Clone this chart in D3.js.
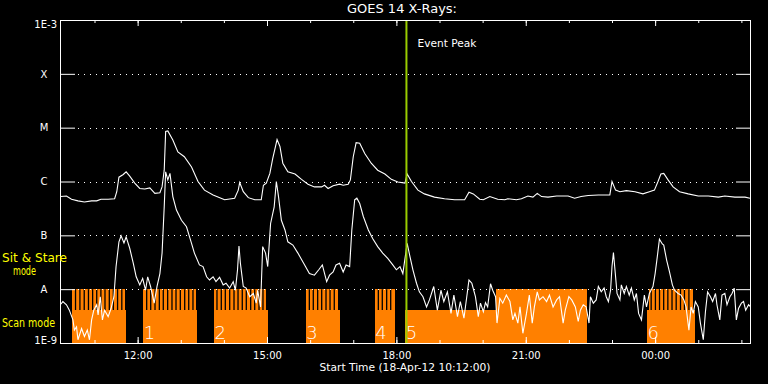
<!DOCTYPE html>
<html lang="en">
<head>
<meta charset="UTF-8">
<title>GOES 14 X-Rays</title>
<script src="https://d3js.org/d3.v7.min.js"></script>
<style>
  html, body { margin: 0; padding: 0; background: #000; }
  svg { display: block; background: #000; }
  text { font-family: "DejaVu Sans", sans-serif; fill: #fff; }
</style>
</head>
<body>
<div id="chart"></div>
<script>
const width = 768, height = 384;
const margin = { top: 20, right: 18, bottom: 41, left: 60 };

// times are minutes after the start time, fluxes are log10(W/m^2)
const startTime = new Date(2012, 3, 18, 10, 12, 0);
const spanMinutes = 960;
const eventPeak = 482;

const fluxLevels = [1e-9, 1e-8, 1e-7, 1e-6, 1e-5, 1e-4, 1e-3];
const fluxLabels = ["1E-9", "A", "B", "C", "M", "X", "1E-3"];

// 1-8 A channel
const longChannel = [
  [1,-6.28],[9,-6.27],[16,-6.33],[25,-6.36],[34,-6.38],[44,-6.36],[51,-6.36],[57,-6.33],[67,-6.33],[76,-6.32],
  [79,-6.19],[82,-5.92],[88,-5.87],[92,-5.82],[97,-5.90],[104,-6.03],[111,-6.13],[118,-6.14],[125,-6.12],[132,-6.22],
  [139,-6.21],[142,-6.10],[145,-5.79],[147,-5.07],[150,-5.06],[157,-5.23],[164,-5.45],[173,-5.54],[183,-5.73],[192,-6.00],
  [201,-6.16],[213,-6.25],[229,-6.34],[243,-6.31],[248,-6.16],[250,-6.02],[255,-6.19],[262,-6.30],[271,-6.34],[280,-6.34],
  [283,-6.07],[287,-6.03],[292,-5.85],[296,-5.57],[302,-5.22],[306,-5.35],[310,-5.66],[317,-5.82],[327,-5.86],[336,-5.96],
  [345,-6.05],[354,-6.10],[364,-6.10],[368,-6.07],[373,-6.13],[380,-6.08],[389,-6.05],[394,-6.07],[401,-6.05],[404,-5.97],
  [408,-5.54],[412,-5.28],[417,-5.29],[424,-5.48],[433,-5.66],[442,-5.79],[452,-5.86],[461,-5.96],[470,-6.01],[480,-6.03],
  [483,-5.86],[489,-6.00],[498,-6.16],[507,-6.23],[521,-6.29],[535,-6.32],[549,-6.34],[563,-6.34],[569,-6.20],[575,-6.23],
  [584,-6.33],[589,-6.34],[598,-6.28],[609,-6.33],[619,-6.34],[623,-6.32],[635,-6.34],[642,-6.32],[651,-6.27],[658,-6.29],
  [664,-6.22],[670,-6.28],[679,-6.29],[691,-6.27],[707,-6.27],[716,-6.31],[725,-6.28],[735,-6.26],[749,-6.25],[765,-6.25],
  [768,-6.00],[773,-6.16],[779,-6.19],[788,-6.17],[800,-6.19],[811,-6.23],[820,-6.19],[827,-6.16],[832,-6.00],[836,-5.86],
  [840,-5.85],[846,-5.97],[853,-6.10],[862,-6.19],[874,-6.23],[888,-6.27],[902,-6.27],[916,-6.29],[925,-6.27],[939,-6.29],
  [953,-6.29],[960,-6.31]
];

// 0.5-4 A channel
const shortChannel = [
  [1,-8.28],[4,-8.23],[9,-8.29],[13,-8.39],[18,-8.57],[20,-8.76],[23,-8.70],[25,-8.94],[30,-8.73],[34,-8.88],
  [38,-8.76],[41,-8.94],[44,-8.57],[47,-8.39],[51,-8.29],[53,-8.48],[56,-8.14],[59,-8.57],[62,-8.39],[67,-8.51],
  [71,-8.36],[75,-8.14],[78,-7.58],[82,-7.12],[85,-7.01],[89,-7.14],[92,-7.03],[97,-7.24],[102,-7.52],[106,-7.77],
  [111,-7.92],[115,-7.80],[119,-8.02],[122,-7.77],[126,-7.95],[131,-8.26],[135,-7.95],[139,-7.71],[142,-7.33],[145,-6.47],
  [147,-5.82],[150,-5.97],[153,-5.85],[157,-6.28],[162,-6.53],[169,-6.72],[176,-6.84],[183,-7.15],[187,-7.33],[194,-7.55],
  [199,-7.58],[204,-7.77],[208,-7.83],[213,-7.77],[217,-7.86],[222,-7.78],[227,-7.92],[231,-7.89],[236,-7.98],[241,-7.86],
  [244,-8.02],[247,-7.64],[249,-7.20],[251,-7.52],[255,-7.95],[259,-7.98],[264,-8.14],[269,-8.08],[273,-8.26],[275,-8.02],
  [279,-8.33],[282,-7.21],[286,-7.33],[289,-7.58],[293,-6.78],[298,-6.47],[301,-6.00],[304,-6.28],[308,-6.72],[313,-6.90],
  [317,-7.12],[324,-7.18],[331,-7.33],[339,-7.52],[347,-7.71],[354,-7.74],[360,-7.64],[365,-7.55],[371,-7.86],[375,-7.74],
  [380,-7.68],[384,-7.55],[389,-7.52],[394,-7.68],[398,-7.55],[403,-7.58],[406,-6.90],[410,-6.34],[413,-6.31],[417,-6.41],
  [422,-6.65],[429,-6.90],[435,-7.06],[442,-7.21],[449,-7.33],[456,-7.43],[463,-7.55],[468,-7.64],[473,-7.58],[477,-7.71],
  [483,-7.15],[487,-7.40],[491,-7.64],[496,-7.89],[500,-8.05],[505,-8.14],[510,-8.33],[514,-8.20],[520,-7.95],[525,-8.39],
  [530,-8.02],[534,-8.23],[539,-8.05],[544,-8.45],[548,-8.11],[553,-8.51],[557,-8.23],[562,-8.54],[569,-7.83],[573,-7.89],
  [578,-8.14],[582,-8.51],[585,-8.26],[589,-8.42],[592,-8.25],[595,-8.33],[599,-7.90],[602,-8.02],[606,-8.14],[608,-8.63],
  [612,-8.17],[616,-8.26],[621,-8.11],[626,-8.23],[630,-8.57],[633,-8.45],[637,-8.63],[640,-8.33],[644,-8.82],[649,-8.45],
  [653,-8.11],[657,-8.63],[660,-8.33],[664,-8.05],[667,-8.20],[672,-8.14],[677,-8.23],[681,-8.11],[686,-8.33],[691,-8.20],
  [695,-8.14],[700,-8.63],[703,-8.39],[708,-8.14],[712,-8.20],[717,-8.33],[721,-8.60],[724,-8.39],[728,-8.29],[732,-8.33],
  [736,-8.63],[738,-8.14],[742,-8.26],[746,-8.20],[749,-7.95],[753,-8.05],[757,-7.98],[760,-8.14],[763,-8.23],[766,-8.02],
  [768,-7.58],[770,-7.32],[773,-7.77],[775,-8.08],[779,-8.20],[781,-7.92],[785,-8.08],[788,-7.95],[792,-8.11],[795,-7.98],
  [799,-8.20],[802,-8.08],[805,-8.45],[809,-8.57],[813,-8.11],[816,-8.33],[820,-8.08],[825,-7.95],[828,-7.71],[831,-7.40],
  [834,-7.07],[838,-7.16],[840,-7.18],[844,-7.46],[848,-7.68],[852,-7.92],[855,-8.02],[860,-8.08],[864,-8.11],[868,-8.20],
  [871,-8.33],[875,-8.76],[878,-8.33],[881,-8.45],[884,-8.23],[888,-8.33],[891,-8.63],[895,-8.94],[898,-8.42],[901,-8.05],
  [905,-8.14],[908,-8.23],[912,-8.08],[914,-8.29],[918,-8.57],[921,-8.11],[925,-8.08],[928,-8.29],[932,-8.14],[935,-8.08],
  [938,-7.98],[941,-8.57],[944,-8.36],[948,-8.26],[951,-8.23],[954,-8.39],[958,-8.29],[961,-8.33]
];

// observing blocks (scan mode) with their numbers
const scanBlocks = [
  { label: "",  start: 16.7,  end: 91.8 },
  { label: "1", start: 115.9, end: 190.6 },
  { label: "2", start: 214.3, end: 289.4 },
  { label: "3", start: 341.8, end: 389.6 },
  { label: "4", start: 437.8, end: 466.5 },
  { label: "5", start: 480.4, end: 733.6 },
  { label: "6", start: 816.7, end: 883.5 }
];
// sit & stare stretches
const stareSpans = [
  [16.7, 90.4], [115.9, 189.2], [214.3, 287.0], [341.8, 387.2], [437.8, 466.5], [606.2, 733.6], [819.5, 880.3]
];
// short drops back to scan mode inside the sit & stare stretches
const scanGaps = [
  21.6, 27.7, 33.7, 39.6, 45.4, 51.1, 56.9, 62.6, 68.6, 74.2, 80.1, 86.0,
  120.6, 126.2, 132.2, 138.2, 143.7, 149.8, 155.8, 161.4, 167.4, 173.5, 179.1, 185.0,
  218.4, 224.4, 230.0, 236.1, 242.1, 247.7, 253.6, 259.2, 265.3, 270.9, 276.9, 282.4,
  346.9, 352.4, 358.5, 364.1, 370.1, 375.7, 381.6,
  442.9, 448.4, 454.5, 460.1,
  822.5, 828.4, 834.1, 839.9, 845.7, 851.5, 857.3, 863.3, 868.8, 875.0
];
const scanLevel = 4.1e-9, stareLevel = 1e-8;

const orange = "#ff8000", peakColor = "#99cc00", yellow = "#ffff00";

const toDate = m => new Date(startTime.getTime() + m * 60000);

const svg = d3.select("#chart").append("svg").attr("width", width).attr("height", height);

const x = d3.scaleTime()
  .domain([startTime, toDate(spanMinutes)])
  .range([margin.left, width - margin.right]);
const y = d3.scaleLog()
  .domain([1e-9, 1e-3])
  .range([height - margin.bottom, margin.top]);
const y0 = y(1e-9);

// mode bars
svg.append("g").selectAll("rect").data(scanBlocks).join("rect")
  .attr("x", d => x(toDate(d.start)))
  .attr("width", d => x(toDate(d.end)) - x(toDate(d.start)))
  .attr("y", y(scanLevel))
  .attr("height", y0 - y(scanLevel))
  .attr("fill", orange)
  .attr("shape-rendering", "crispEdges");

svg.append("g").selectAll("rect").data(stareSpans).join("rect")
  .attr("x", d => x(toDate(d[0])))
  .attr("width", d => x(toDate(d[1])) - x(toDate(d[0])))
  .attr("y", y(stareLevel))
  .attr("height", y0 - y(stareLevel))
  .attr("fill", orange)
  .attr("shape-rendering", "crispEdges");

svg.append("g").selectAll("line").data(scanGaps).join("line")
  .attr("x1", d => x(toDate(d))).attr("x2", d => x(toDate(d)))
  .attr("y1", y(stareLevel)).attr("y2", y(scanLevel))
  .attr("stroke", "#000").attr("stroke-width", 1.3);

svg.append("g").selectAll("text").data(scanBlocks.filter(d => d.label)).join("text")
  .attr("x", d => x(toDate(d.start)) + 0.5)
  .attr("y", y0 - 4)
  .attr("font-size", 18)
  .attr("font-weight", 200)
  .text(d => d.label);

// dotted grid at the class levels
svg.append("g").selectAll("line").data(fluxLevels.slice(1, -1)).join("line")
  .attr("x1", margin.left + 18).attr("x2", width - margin.right - 14)
  .attr("y1", d => Math.round(y(d)) + 0.5).attr("y2", d => Math.round(y(d)) + 0.5)
  .attr("stroke", "#fff").attr("stroke-dasharray", "1,5");

// flux curves
const line = d3.line().x(d => x(toDate(d[0]))).y(d => y(Math.pow(10, d[1])));
[longChannel, shortChannel].forEach(series => {
  svg.append("path").datum(series)
    .attr("d", line)
    .attr("fill", "none")
    .attr("stroke", "#fff")
    .attr("stroke-width", 1.1);
});

// event peak marker
svg.append("line")
  .attr("x1", x(toDate(eventPeak))).attr("x2", x(toDate(eventPeak)))
  .attr("y1", margin.top).attr("y2", y0)
  .attr("stroke", peakColor).attr("stroke-width", 2);
svg.append("text")
  .attr("x", x(toDate(eventPeak)) + 11).attr("y", 47)
  .attr("font-size", 10)
  .attr("textLength", 59).attr("lengthAdjust", "spacingAndGlyphs")
  .text("Event Peak");

// axes
function timeAxis(axisFn, yPos, every, size, labels) {
  const ax = axisFn(x).ticks(d3.timeHour.every(every)).tickSizeInner(-size).tickSizeOuter(0);
  ax.tickFormat(labels ? d3.timeFormat("%H:%M") : "").tickPadding(9);
  const g = svg.append("g").attr("transform", `translate(0,${yPos})`).call(ax);
  g.select(".domain").remove();
  g.selectAll("line").attr("stroke", "#fff");
  g.selectAll("text").attr("fill", "#fff").attr("font-size", 10)
    .attr("font-family", "DejaVu Sans, sans-serif");
  return g;
}
timeAxis(d3.axisBottom, y0, 1, 3, false);
timeAxis(d3.axisBottom, y0, 3, 6, true);
timeAxis(d3.axisTop, margin.top, 1, 3, false);
timeAxis(d3.axisTop, margin.top, 3, 6, false);

const yAxis = svg.append("g").attr("transform", `translate(${margin.left},0)`)
  .call(d3.axisLeft(y).tickValues(fluxLevels).tickSize(-15).tickPadding(3)
    .tickFormat((d, i) => fluxLabels[i]));
yAxis.select(".domain").remove();
yAxis.selectAll("line").attr("stroke", "#fff");
yAxis.selectAll("text")
  .attr("fill", "#fff").attr("font-size", 10).attr("font-family", "DejaVu Sans, sans-serif")
  .each(function (d, i) {
    const t = d3.select(this);
    if (fluxLabels[i].length === 1) t.attr("text-anchor", "middle").attr("x", -16);
    if (i === 0) t.attr("dy", "0em");
    if (i === fluxLevels.length - 1) t.attr("dy", "0.7em");
  });

const yRight = svg.append("g").attr("transform", `translate(${width - margin.right},0)`)
  .call(d3.axisRight(y).tickValues(fluxLevels).tickSize(-14).tickFormat(""));
yRight.select(".domain").remove();
yRight.selectAll("line").attr("stroke", "#fff");

// frame
svg.append("rect")
  .attr("x", margin.left + 0.5).attr("y", margin.top + 0.5)
  .attr("width", width - margin.left - margin.right)
  .attr("height", y0 - margin.top)
  .attr("fill", "none").attr("stroke", "#fff");

// titles
svg.append("text")
  .attr("x", 347).attr("y", 13)
  .attr("font-size", 12)
  .attr("textLength", 110).attr("lengthAdjust", "spacingAndGlyphs")
  .text("GOES 14 X-Rays:");
svg.append("text")
  .attr("x", (margin.left + width - margin.right) / 2).attr("y", 371)
  .attr("text-anchor", "middle").attr("font-size", 10)
  .attr("textLength", 171).attr("lengthAdjust", "spacingAndGlyphs")
  .text("Start Time (18-Apr-12 10:12:00)");

// mode legend
const modeNotes = [
  { text: "Sit & Stare", x: 2, y: 262, len: 65 },
  { text: "mode", x: 13, y: 275, len: 23 },
  { text: "Scan mode", x: 2, y: 327, len: 53 }
];
svg.append("g").selectAll("text").data(modeNotes).join("text")
  .attr("x", d => d.x).attr("y", d => d.y)
  .attr("font-size", 11.5)
  .attr("textLength", d => d.len).attr("lengthAdjust", "spacingAndGlyphs")
  .style("fill", yellow)
  .text(d => d.text);
</script>
</body>
</html>
